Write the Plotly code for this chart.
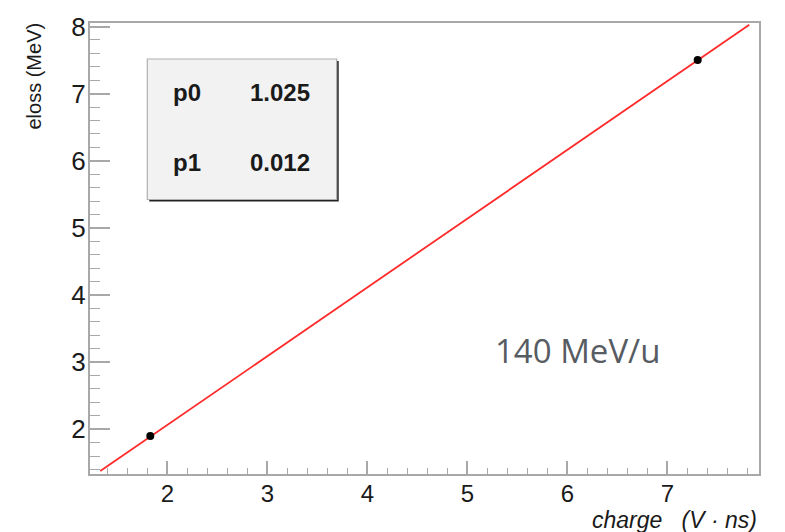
import plotly.graph_objects as go

# data
charge = [1.83, 7.304]
eloss = [1.90, 7.50]
p0 = 1.025
p1 = 0.012
fit_x = [1.33, 7.82]
fit_y = [p0 * x + p1 for x in fit_x]
x_range = [1.227, 7.917]
y_range = [1.332, 8.053]
x_ticks = [2, 3, 4, 5, 6, 7]
y_ticks = [2, 3, 4, 5, 6, 7, 8]

W, H = 785, 532
L, R, T, B = 90, 26, 14, 58
pw, ph = W - L - R, H - T - B

def px(x):
    return (x - L) / pw

def py(y):
    return 1 - (y - T) / ph

fig = go.Figure()
fig.add_trace(go.Scatter(x=fit_x, y=fit_y, mode="lines",
                         line=dict(color="#ff2a2a", width=1.8), hoverinfo="skip"))
fig.add_trace(go.Scatter(x=charge, y=eloss, mode="markers",
                         marker=dict(color="black", size=8)))

axcol = "#a8a8a8"
fig.update_xaxes(range=x_range, tickvals=x_ticks, ticks="inside", ticklen=13,
                 tickwidth=1.5, tickcolor=axcol, showline=True, linecolor=axcol,
                 linewidth=2, mirror=True, showgrid=False, zeroline=False,
                 ticklabelstandoff=-3,
                 tickfont=dict(family="Liberation Sans", size=24, color="#1a1a1a"),
                 minor=dict(dtick=0.2, tick0=0, ticks="inside", ticklen=6,
                            tickwidth=1.2, tickcolor=axcol, showgrid=False))
fig.update_yaxes(range=y_range, tickvals=y_ticks, ticks="inside", ticklen=20,
                 tickwidth=1.5, tickcolor=axcol, showline=True, linecolor=axcol,
                 linewidth=2, mirror=True, showgrid=False, zeroline=False,
                 ticklabelstandoff=-3,
                 tickfont=dict(family="Liberation Sans", size=26, color="#1a1a1a"),
                 minor=dict(dtick=0.2, tick0=0, ticks="inside", ticklen=10,
                            tickwidth=1.2, tickcolor=axcol, showgrid=False))

# stats box (shadow + box)
bx0, bx1, by0, by1 = 147.3, 336.7, 50.7, 194
fig.add_shape(type="rect", xref="paper", yref="paper",
              x0=px(bx0 + 2), x1=px(bx1 + 2), y0=py(by1 + 2), y1=py(by0 + 2),
              line=dict(width=0), fillcolor="#222222", layer="above")
fig.add_shape(type="rect", xref="paper", yref="paper",
              x0=px(bx0), x1=px(bx1), y0=py(by1), y1=py(by0),
              line=dict(width=1.2, color="#b0b0b0"), fillcolor="#f2f2f2", layer="above")

stat_font = dict(family="Liberation Sans", size=24, color="#1a1a1a")
for name, val, yc in [("p0", p0, 85), ("p1", p1, 156.7)]:
    fig.add_annotation(xref="paper", yref="paper", x=px(171), y=py(yc),
                       xanchor="left", yanchor="middle", showarrow=False,
                       text="<b>%s</b>" % name, font=stat_font)
    fig.add_annotation(xref="paper", yref="paper", x=px(248), y=py(yc),
                       xanchor="left", yanchor="middle", showarrow=False,
                       text="<b>%.3f</b>" % val, font=stat_font)

fig.add_annotation(xref="paper", yref="paper", x=px(577), y=py(348),
                   xanchor="center", yanchor="middle", showarrow=False,
                   text="140 MeV/u",
                   font=dict(family="Open Sans", size=33, color="#575c63"))

fig.add_annotation(xref="paper", yref="paper", x=px(34), y=py(12),
                   xanchor="center", yanchor="top", showarrow=False, textangle=-90,
                   text="eloss (MeV)",
                   font=dict(family="Liberation Sans", size=20, color="#1a1a1a"))
fig.add_annotation(xref="paper", yref="paper", x=1.0, y=py(521),
                   xanchor="right", yanchor="middle", showarrow=False,
                   text="<i>charge\u00a0\u00a0\u00a0(V \u00b7 ns)</i>",
                   font=dict(family="Liberation Sans", size=23, color="#1a1a1a"))

fig.update_layout(width=W, height=H, margin=dict(l=L, r=R, t=T, b=B),
                  showlegend=False, plot_bgcolor="white", paper_bgcolor="white")

fig.write_html("out.html")
